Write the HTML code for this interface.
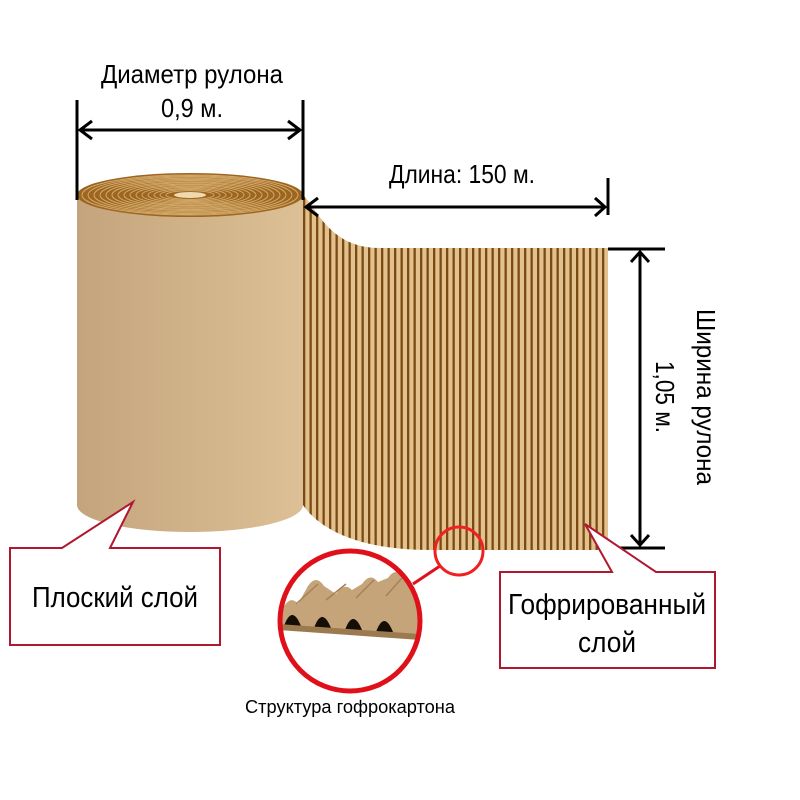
<!DOCTYPE html>
<html><head><meta charset="utf-8"><style>html,body{margin:0;padding:0;background:#fff}svg{display:block}</style></head><body>
<svg width="800" height="800" viewBox="0 0 800 800" xmlns="http://www.w3.org/2000/svg" font-family="'Liberation Sans Narrow','Liberation Sans',sans-serif">
<defs>
<pattern id="st" x="303" y="0" width="6.5" height="10" patternUnits="userSpaceOnUse">
<rect width="6.5" height="10" fill="#e2c18f"/><rect x="0" width="2.3" height="10" fill="#7a4a10"/>
</pattern>
<linearGradient id="cyl" x1="0" x2="1" y1="0" y2="0">
<stop offset="0" stop-color="#c4a47c"/><stop offset="1" stop-color="#ddc096"/>
</linearGradient>
<clipPath id="cc"><circle cx="350" cy="621" r="70"/></clipPath>
</defs>
<path d="M303,195 C318,210 330,248 380,248 L608,248 L608,550 L430,550 C360,550 320,530 303,505 Z" fill="url(#st)"/>
<path d="M77,195 L77,505 A113,27 0 0 0 303,505 L303,195 Z" fill="url(#cyl)"/>
<ellipse cx="190" cy="195" rx="113" ry="22" fill="#9c6520"/>
<g fill="none" stroke="#d2a868" stroke-width="1">
<ellipse cx="190" cy="195" rx="108" ry="20"/><ellipse cx="190" cy="195" rx="102" ry="19"/><ellipse cx="190" cy="195" rx="96" ry="18"/><ellipse cx="190" cy="195" rx="90" ry="16.8"/><ellipse cx="190" cy="195" rx="84" ry="15.6"/><ellipse cx="190" cy="195" rx="78" ry="14.5"/><ellipse cx="190" cy="195" rx="72" ry="13.3"/><ellipse cx="190" cy="195" rx="66" ry="12.2"/><ellipse cx="190" cy="195" rx="60" ry="11"/><ellipse cx="190" cy="195" rx="54" ry="10"/><ellipse cx="190" cy="195" rx="48" ry="8.8"/><ellipse cx="190" cy="195" rx="42" ry="7.7"/><ellipse cx="190" cy="195" rx="36" ry="6.6"/><ellipse cx="190" cy="195" rx="30" ry="5.5"/><ellipse cx="190" cy="195" rx="24" ry="4.4"/>
</g>
<ellipse cx="190" cy="195" rx="16" ry="3" fill="#f0d8b0"/>
<g stroke="#000" stroke-width="3" fill="none">
<line x1="77" y1="100" x2="77" y2="200"/><line x1="303" y1="100" x2="303" y2="200"/>
<line x1="80" y1="130" x2="300" y2="130"/>
<path d="M92,121 L80,130 L92,139"/><path d="M288,121 L300,130 L288,139"/>
<line x1="608" y1="178" x2="608" y2="215"/>
<line x1="306" y1="207" x2="605" y2="207"/>
<path d="M318,198 L306,207 L318,216"/><path d="M595,198 L605,207 L595,216"/>
<line x1="608" y1="249" x2="665" y2="249"/><line x1="608" y1="548" x2="665" y2="548"/>
<line x1="640" y1="252" x2="640" y2="545"/>
<path d="M631,262 L640,252 L649,262"/><path d="M631,535 L640,545 L649,535"/>
</g>
<g font-size="26" fill="#000" text-anchor="middle">
<text x="192" y="83" textLength="182" lengthAdjust="spacingAndGlyphs">Диаметр рулона</text>
<text x="192" y="117" textLength="62" lengthAdjust="spacingAndGlyphs">0,9 м.</text>
<text x="462" y="183" textLength="146" lengthAdjust="spacingAndGlyphs">Длина: 150 м.</text>
<text transform="translate(697,397) rotate(90)" textLength="176" lengthAdjust="spacingAndGlyphs">Ширина рулона</text>
<text transform="translate(656,397) rotate(90)" textLength="72" lengthAdjust="spacingAndGlyphs">1,05 м.</text>
</g>
<path d="M10,548 L62,548 L133,502 L110,548 L220,548 L220,645 L10,645 Z" fill="#fff" stroke="#b01830" stroke-width="2"/>
<text x="115" y="607" font-size="29" text-anchor="middle" textLength="166" lengthAdjust="spacingAndGlyphs">Плоский слой</text>
<path d="M500,572 L612,572 L585,524 L656,572 L715,572 L715,668 L500,668 Z" fill="#fff" stroke="#b01830" stroke-width="2"/>
<text x="607" y="614" font-size="29" text-anchor="middle" textLength="198" lengthAdjust="spacingAndGlyphs">Гофрированный</text>
<text x="607" y="652" font-size="29" text-anchor="middle" textLength="58" lengthAdjust="spacingAndGlyphs">слой</text>
<line x1="413" y1="584" x2="440" y2="566" stroke="#e0101a" stroke-width="3"/>
<circle cx="459" cy="551" r="24" fill="none" stroke="#f02020" stroke-width="3"/>
<circle cx="350" cy="621" r="70" fill="#fff"/>
<g clip-path="url(#cc)">
<path d="M278,622 L282,610 Q290,594 298,604 L308,586 Q316,574 324,586 L336,594 Q344,582 352,590 L362,584 Q370,572 378,582 L388,578 Q396,566 404,578 L416,596 L420,636 L278,628 Z" fill="#c6a47a"/>
<g fill="none" stroke="#a58058" stroke-width="1.5">
<path d="M296,604 L318,584"/><path d="M326,600 L346,584"/><path d="M356,598 L374,580"/><path d="M386,596 L402,578"/>
</g>
<g fill="#150e06"><path d="M284,626 q8,-22 17,0z"/><path d="M314,628 q8,-22 17,0z"/><path d="M345,630 q8,-22 17,0z"/><path d="M376,632 q8,-22 17,0z"/></g>
<path d="M278,624 L420,634 L420,640 L278,630 Z" fill="#9c7a50"/>
</g>
<circle cx="350" cy="621" r="70" fill="none" stroke="#e0101a" stroke-width="5"/>
<text x="350" y="713" font-size="18" text-anchor="middle" textLength="210" lengthAdjust="spacingAndGlyphs">Структура гофрокартона</text>
</svg>
</body></html>
